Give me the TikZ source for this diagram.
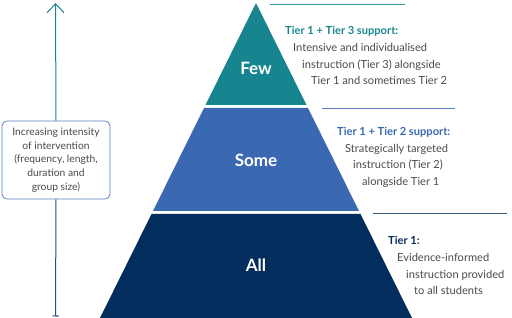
\documentclass[tikz,border=0pt]{standalone}
\usepackage{fontspec}
\setmainfont{Lato}
\usepackage{tikz}
\usetikzlibrary{arrows.meta,positioning,calc}
\definecolor{tierteal}{HTML}{17858F}
\definecolor{tierblue}{HTML}{3A69B2}
\definecolor{tiernavy}{HTML}{032D5D}
\definecolor{tiergrey}{HTML}{4A4A4A}
\tikzset{
  pyrtier/.style={draw=none},
  pyrlabel/.style={font=\fontsize{17}{20}\selectfont\bfseries,text=white,inner sep=0pt},
  tiertitle/.style={anchor=base west,inner sep=0pt,font=\fontsize{11.1}{13}\selectfont\bfseries},
  tiertext/.style={anchor=base west,inner sep=0pt,text=tiergrey,font=\fontsize{11.1}{13}\selectfont},
  tierrule/.style={line width=0.8pt},
  intensitybox/.style={draw=tierblue!85,line width=0.8pt,rounded corners=5pt,fill=white,
    minimum width=108pt,minimum height=78pt,inner sep=0pt,align=center,text=tiergrey,
    font=\fontsize{10.3}{13.7}\selectfont},
  intensityaxis/.style={line width=1pt}
}
\begin{document}
\begin{tikzpicture}[x=1pt,y=-1pt]
\useasboundingbox (0,0) rectangle (512,318);
% pyramid tiers, top to bottom
\fill[pyrtier,tierteal] (256,3) -- (306.5,105) -- (205.5,105) -- cycle;
\fill[pyrtier,tierblue] (204,108) -- (308,108) -- (359,211) -- (153,211) -- cycle;
\fill[pyrtier,tiernavy] (151.5,214) -- (360.5,214) -- (412,318) -- (100,318) -- cycle;
\node[pyrlabel] (few) at (256,68) {Few};
\node[pyrlabel] (some) at (256,160) {Some};
\node[pyrlabel] (all) at (256,265) {All};

% rules and descriptions on the right
\coordinate (r3a) at (270,4);   \coordinate (r3b) at (405,4);
\coordinate (r2a) at (322,108.5); \coordinate (r2b) at (455,108.5);
\coordinate (r1a) at (373,213); \coordinate (r1b) at (507,213);
\draw[tierrule,tierteal!85] (r3a) -- (r3b);
\draw[tierrule,tierblue!85] (r2a) -- (r2b);
\draw[tierrule,tiernavy!80] (r1a) -- (r1b);

\node[tiertitle,text=tierteal] (t3) at (285,35) {Tier 1 + Tier 3 support:};
\node[tiertext] (t3a) at (293,52) {Intensive and individualised};
\node[tiertext] (t3b) at (302,68.5) {instruction (Tier 3) alongside};
\node[tiertext] (t3c) at (311,85) {Tier 1 and sometimes Tier 2};

\node[tiertitle,text=tierblue] (t2) at (337,136) {Tier 1 + Tier 2 support:};
\node[tiertext] (t2a) at (345,152.5) {Strategically targeted};
\node[tiertext] (t2b) at (353,169) {instruction (Tier 2)};
\node[tiertext] (t2c) at (362,185.5) {alongside Tier 1};

\node[tiertitle,text=tiernavy] (t1) at (388,245) {Tier 1:};
\node[tiertext] (t1a) at (397,261.5) {Evidence-informed};
\node[tiertext] (t1b) at (406,278) {instruction provided};
\node[tiertext] (t1c) at (414,294.5) {to all students};

% intensity axis
\coordinate (axtop) at (55.5,3);
\coordinate (axfoot) at (55.5,316.5);
\node[intensitybox] (box) at (56,160) {Increasing intensity\\of intervention\\(frequency, length,\\duration and\\group size)};
\draw[intensityaxis,tierteal,-{Straight Barb[length=9pt,width=17pt,line width=1pt]}] (box.north) -- (axtop);
\draw[intensityaxis,tiernavy!85,{Bar[width=6pt,line width=1.2pt]}-] (axfoot) -- (box.south);
\end{tikzpicture}
\end{document}
